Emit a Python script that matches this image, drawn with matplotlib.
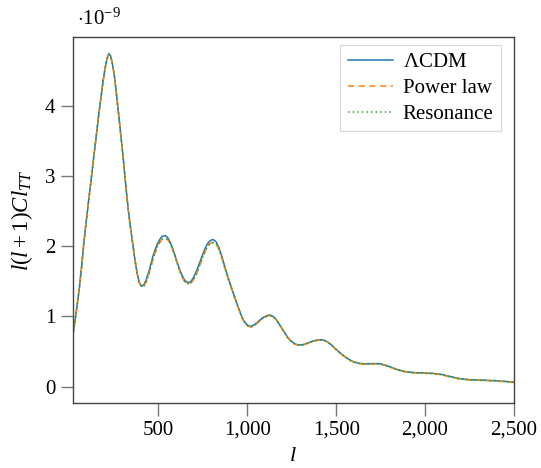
import matplotlib
matplotlib.use('Agg')
import matplotlib.pyplot as plt
from matplotlib.ticker import FuncFormatter, FixedLocator

plt.rcParams['font.family'] = ['Liberation Serif', 'DejaVu Serif']
plt.rcParams['mathtext.fontset'] = 'custom'
plt.rcParams['mathtext.rm'] = 'Liberation Serif'
plt.rcParams['mathtext.it'] = 'Liberation Serif:italic'
plt.rcParams['font.size'] = 15

# multipole l and l(l+1)C_l^TT in units of 1e-9
ells = [18, 30, 42, 55, 68, 80, 94, 109, 123, 137,
        150, 163, 176, 189, 200, 210, 221, 231, 241, 252,
        264, 277, 289, 301, 313, 324, 338, 352, 366, 380,
        392, 405, 418, 431, 444, 457, 470, 483, 496, 509,
        522, 539, 553, 566, 580, 594, 608, 621, 634, 647,
        659, 671, 684, 697, 710, 723, 736, 749, 762, 775,
        788, 800, 811, 825, 840, 855, 870, 885, 900, 915,
        930, 945, 958, 970, 983, 997, 1012, 1027, 1042, 1057,
        1072, 1087, 1100, 1113, 1126, 1139, 1152, 1165, 1180, 1195,
        1210, 1225, 1240, 1256, 1272, 1290, 1306, 1322, 1338, 1354,
        1370, 1386, 1402, 1418, 1434, 1450, 1466, 1482, 1498, 1514,
        1530, 1546, 1562, 1578, 1594, 1610, 1626, 1645, 1665, 1685,
        1705, 1722, 1738, 1755, 1772, 1790, 1808, 1826, 1845, 1864,
        1883, 1903, 1923, 1943, 1963, 1983, 2003, 2023, 2043, 2063,
        2083, 2103, 2123, 2143, 2163, 2183, 2203, 2223, 2243, 2263,
        2283, 2303, 2333, 2363, 2393, 2423, 2453, 2480, 2500]

lcdm = [0.72, 0.92, 1.14, 1.40, 1.70, 2.03, 2.35, 2.67, 2.98, 3.28,
        3.56, 3.84, 4.10, 4.35, 4.53, 4.66, 4.74, 4.71, 4.60, 4.43,
        4.17, 3.86, 3.57, 3.28, 2.97, 2.67, 2.36, 2.10, 1.84, 1.62,
        1.49, 1.43, 1.45, 1.52, 1.62, 1.74, 1.86, 1.96, 2.04, 2.10,
        2.14, 2.15, 2.12, 2.06, 1.97, 1.86, 1.75, 1.66, 1.58, 1.52,
        1.49, 1.48, 1.50, 1.55, 1.62, 1.70, 1.79, 1.88, 1.96, 2.03,
        2.07, 2.09, 2.09, 2.06, 1.98, 1.87, 1.74, 1.61, 1.49, 1.38,
        1.27, 1.16, 1.07, 0.99, 0.93, 0.885, 0.86, 0.865, 0.885, 0.915,
        0.95, 0.98, 1.00, 1.015, 1.02, 1.01, 0.985, 0.95, 0.89, 0.83,
        0.77, 0.71, 0.665, 0.63, 0.605, 0.595, 0.595, 0.605, 0.62, 0.635,
        0.65, 0.66, 0.667, 0.668, 0.66, 0.64, 0.61, 0.575, 0.535, 0.50,
        0.465, 0.435, 0.405, 0.38, 0.36, 0.345, 0.335, 0.328, 0.326, 0.327,
        0.329, 0.33, 0.328, 0.322, 0.31, 0.295, 0.278, 0.26, 0.243, 0.23,
        0.218, 0.21, 0.204, 0.20, 0.198, 0.196, 0.195, 0.193, 0.19, 0.185,
        0.178, 0.168, 0.156, 0.143, 0.131, 0.12, 0.112, 0.106, 0.102, 0.099,
        0.097, 0.095, 0.093, 0.09, 0.086, 0.081, 0.075, 0.069, 0.065]

power_law = [0.72, 0.92, 1.14, 1.40, 1.70, 2.03, 2.35, 2.67, 2.98, 3.28,
             3.56, 3.84, 4.10, 4.35, 4.53, 4.66, 4.73, 4.70, 4.60, 4.43,
             4.17, 3.86, 3.57, 3.28, 2.97, 2.67, 2.36, 2.10, 1.84, 1.61,
             1.48, 1.42, 1.43, 1.49, 1.58, 1.70, 1.82, 1.92, 2.00, 2.06,
             2.10, 2.11, 2.09, 2.04, 1.95, 1.85, 1.74, 1.64, 1.56, 1.50,
             1.47, 1.46, 1.48, 1.52, 1.58, 1.66, 1.75, 1.84, 1.92, 1.99,
             2.03, 2.05, 2.05, 2.03, 1.96, 1.85, 1.72, 1.60, 1.48, 1.37,
             1.26, 1.15, 1.06, 0.98, 0.92, 0.875, 0.85, 0.855, 0.875, 0.905,
             0.94, 0.97, 0.99, 1.005, 1.01, 1.00, 0.98, 0.945, 0.885, 0.825,
             0.765, 0.705, 0.66, 0.625, 0.60, 0.59, 0.59, 0.60, 0.615, 0.63,
             0.645, 0.655, 0.662, 0.663, 0.655, 0.635, 0.605, 0.57, 0.53, 0.495,
             0.46, 0.43, 0.40, 0.375, 0.355, 0.34, 0.33, 0.323, 0.321, 0.322,
             0.324, 0.325, 0.323, 0.317, 0.305, 0.29, 0.273, 0.255, 0.238, 0.225,
             0.214, 0.206, 0.20, 0.196, 0.194, 0.192, 0.191, 0.189, 0.186, 0.181,
             0.174, 0.164, 0.152, 0.139, 0.127, 0.116, 0.108, 0.102, 0.098, 0.095,
             0.093, 0.091, 0.089, 0.086, 0.082, 0.077, 0.071, 0.065, 0.061]

# the resonance model is indistinguishable from the power law at this scale
resonance = list(power_law)

xticks = [500, 1000, 1500, 2000, 2500]
yticks = [0, 1, 2, 3, 4]

fig = plt.figure(figsize=(5.41, 4.68), dpi=100)
ax = fig.add_axes([0.1344, 0.1383, 0.8156, 0.7833])

ax.plot(ells, [v * 1e-9 for v in lcdm], color='#1f77b4', lw=1.1, label=r'$\Lambda$CDM')
ax.plot(ells, [v * 1e-9 for v in power_law], color='#ff7f0e', lw=1.1,
        ls=(0, (4, 3)), label='Power law')
ax.plot(ells, [v * 1e-9 for v in resonance], color='#2ca02c', lw=1.1,
        ls=(0, (1, 2)), label='Resonance')

ax.set_xlim(18, 2500)
ax.set_ylim(-0.236e-9, 4.98e-9)
ax.xaxis.set_major_locator(FixedLocator(xticks))
ax.yaxis.set_major_locator(FixedLocator([t * 1e-9 for t in yticks]))
ax.xaxis.set_major_formatter(FuncFormatter(lambda x, p: f'{x:,.0f}'))
ax.yaxis.set_major_formatter(FuncFormatter(lambda y, p: f'{y / 1e-9:.0f}'))
ax.tick_params(direction='out', length=9, width=1.0, color='#777777',
               top=False, right=False)
for s in ax.spines.values():
    s.set_color('#444444')
    s.set_linewidth(1.0)

ax.set_xlabel(r'$l$', fontsize=16, labelpad=5)
ax.set_ylabel(r'$l(l+1)Cl_{TT}$', fontsize=16.5, labelpad=7)
ax.text(0.01, 1.02, r'$\cdot 10^{-9}$', transform=ax.transAxes,
        ha='left', va='bottom')

leg = ax.legend(loc='upper right', fancybox=False, handlelength=2.2,
                borderpad=0.35, labelspacing=0.3, handletextpad=0.45,
                bbox_to_anchor=(0.994, 1.005))
leg.get_frame().set_edgecolor('#cccccc')
leg.get_frame().set_linewidth(0.8)

fig.savefig('out.png', dpi=100)
